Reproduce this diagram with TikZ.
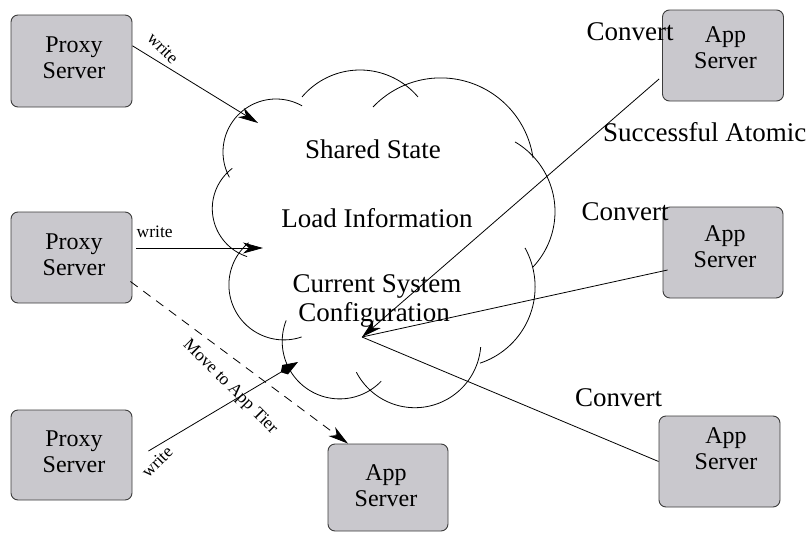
\documentclass[tikz,border=0pt]{standalone}
\usepackage{fontspec}
\setmainfont{Liberation Serif}
\usetikzlibrary{arrows.meta}
\definecolor{boxfill}{RGB}{201,200,205}
\definecolor{boxline}{RGB}{60,60,60}
\tikzset{
  box/.style={draw=boxline, fill=boxfill, rounded corners=7pt, line width=0.9pt, inner sep=0pt},
  btext/.style={font=\fontsize{24}{26.5}\selectfont, align=center, anchor=base, inner sep=0pt},
  bigtext/.style={font=\fontsize{27}{30}\selectfont, inner sep=0pt},
  smalltext/.style={font=\fontsize{17.5}{20}\selectfont, inner sep=0pt},
  arr/.style={-{Stealth[length=20pt,width=11pt,inset=6pt]}},
  kitearr/.style={-{Kite[length=20pt,width=11pt]}},
  conn/.style={line width=0.8pt},
  cloudarc/.style={line width=0.8pt, samples=60},
}
\newcommand{\cloudpart}[5]{\draw[cloudarc] plot[domain=#4:#5] ({#1+#3*cos(\x)},{#2+#3*sin(\x)});}
\begin{document}
\begin{tikzpicture}[x=1pt,y=-1pt]
\useasboundingbox (0,0) rectangle (809,533);

% cloud (circular arcs: centre x, centre y, radius, from, to)
\cloudpart{276}{152}{53}{151.5}{299.5}
\cloudpart{360}{145.8}{75.8}{220.1}{319.9}
\cloudpart{440.7}{171.2}{93.3}{223.5}{351.9}
\cloudpart{474.3}{211.6}{80.7}{-59.7}{43.3}
\cloudpart{454.8}{286.9}{80.3}{-29}{71.7}
\cloudpart{414.9}{341.7}{66}{4.7}{152.4}
\cloudpart{339.7}{341.4}{57.5}{43.8}{201.4}
\cloudpart{283.9}{284.9}{55}{71.2}{230.1}
\cloudpart{262.8}{208.6}{50.5}{108.1}{232.8}

% cloud texts
\node[bigtext, anchor=base] (t1) at (373,158) {Shared State};
\node[bigtext, anchor=base] (t2) at (377,227) {Load Information};
\node[bigtext, anchor=base] (t3) at (377,292) {Current System};
\node[bigtext, anchor=base] (t4) at (374,321) {Configuration};

% boxes
\node[box, minimum width=121pt, minimum height=92pt] (p1) at (71.5,61) {};
\node[box, minimum width=121pt, minimum height=91pt] (p2) at (71.5,257.5) {};
\node[box, minimum width=121pt, minimum height=90pt] (p3) at (71.5,455) {};
\node[box, minimum width=121pt, minimum height=91pt] (a1) at (723,55.5) {};
\node[box, minimum width=120pt, minimum height=91pt] (a2) at (723,252.5) {};
\node[box, minimum width=121pt, minimum height=91pt] (a3) at (719.5,461.5) {};
\node[box, minimum width=120pt, minimum height=87pt] (a4) at (388,487.5) {};

\node[btext] (p1t) at (74,78.5) {Proxy\\Server};
\node[btext] (p2t) at (74,275.5) {Proxy\\Server};
\node[btext] (p3t) at (74,472.5) {Proxy\\Server};
\node[btext] (a1t) at (725.5,68.5) {App\\Server};
\node[btext] (a2t) at (725,267.5) {App\\Server};
\node[btext] (a3t) at (726,469.5) {App\\Server};
\node[btext] (a4t) at (386,506.5) {App\\Server};

% cloud anchor points
\coordinate (c1) at (258,123);
\coordinate (c2) at (263,248);
\coordinate (c3) at (298,362);
\coordinate (hub) at (362,337);

% connectors
\draw[conn, arr] (p1.14) -- (c1);
\draw[conn, arr] ([xshift=4pt,yshift=9.5pt]p2.east) -- (c2);
\draw[conn, kitearr] ([xshift=16pt,yshift=4pt]p3.east) -- (c3);
\draw[conn, arr, dash pattern=on 9pt off 7pt] ([yshift=-24pt,xshift=-2pt]p2.east) -- ([xshift=-40pt]a4.north);
\draw[conn, arr] ([yshift=-23.5pt,xshift=-3pt]a1.west) -- (hub);
\draw[conn] (hub) -- ([yshift=-17.5pt,xshift=5pt]a2.west);
\draw[conn] (hub) -- (a3.west);

% labels
\node[smalltext, rotate=-45] (w1) at (163,48) {write};
\node[smalltext, anchor=base west] (w2) at (136.5,237) {write};
\node[smalltext, rotate=45] (w3) at (157,462) {write};
\node[smalltext, rotate=-45] (mv) at (230,387) {Move to App Tier};

\node[bigtext, anchor=base west] (cv1) at (586.5,40) {Convert};
\node[bigtext, anchor=base west] (sa) at (603,141) {Successful Atomic};
\node[bigtext, anchor=base west] (cv2) at (581.5,220) {Convert};
\node[bigtext, anchor=base west] (cv3) at (575,406) {Convert};
\end{tikzpicture}
\end{document}
